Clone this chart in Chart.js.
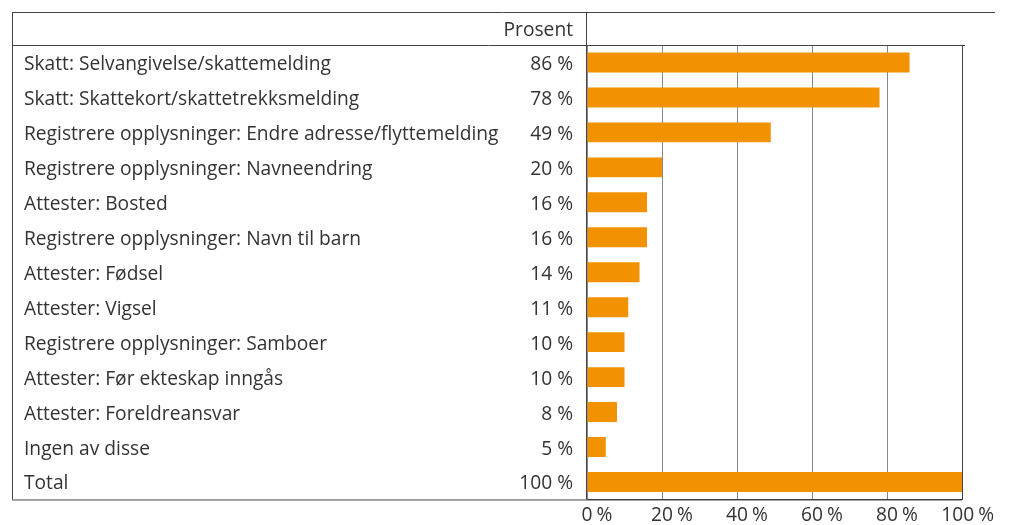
<!DOCTYPE html>
<html>
<head>
<meta charset="utf-8">
<script src="https://cdn.jsdelivr.net/npm/chart.js@4"></script>
<style>
  body { margin: 0; background: #fff; }
  canvas { display: block; }
</style>
</head>
<body>
<canvas id="grafTjenester" width="1010" height="525"></canvas>
<script>
// Kategorier og verdier (prosent)
const kategorier = [
    "Skatt: Selvangivelse/skattemelding",
    "Skatt: Skattekort/skattetrekksmelding",
    "Registrere opplysninger: Endre adresse/flyttemelding",
    "Registrere opplysninger: Navneendring",
    "Attester: Bosted",
    "Registrere opplysninger: Navn til barn",
    "Attester: Fødsel",
    "Attester: Vigsel",
    "Registrere opplysninger: Samboer",
    "Attester: Før ekteskap inngås",
    "Attester: Foreldreansvar",
    "Ingen av disse",
    "Total"
];
const prosent = [86, 78, 49, 20, 16, 16, 14, 11, 10, 10, 8, 5, 100];
const prosentTekst = prosent.map(p => p + " %");
const xTicks = [0, 20, 40, 60, 80, 100];

const FONT = "'Open Sans', sans-serif";
const TEKST = '#333';
const STR = 19.2;

// Ramme, overskrift og x-aksens tekster
const rammePlugin = {
    id: 'ramme',
    afterDraw(chart) {
        const ctx = chart.ctx;
        const a = chart.chartArea;
        const venstre = 12, topp = 12;
        ctx.save();
        ctx.strokeStyle = '#444';
        ctx.lineWidth = 1;
        ctx.beginPath();
        ctx.moveTo(venstre, topp + 0.5); ctx.lineTo(995, topp + 0.5);
        ctx.moveTo(venstre, a.top + 0.5); ctx.lineTo(a.right + 3, a.top + 0.5);
        ctx.moveTo(venstre + 0.5, topp); ctx.lineTo(venstre + 0.5, a.bottom);
        ctx.moveTo(a.left - 0.5, topp); ctx.lineTo(a.left - 0.5, a.bottom);
        ctx.moveTo(a.right + 0.5, a.top); ctx.lineTo(a.right + 0.5, a.bottom);
        ctx.moveTo(venstre, a.bottom + 0.5); ctx.lineTo(a.right, a.bottom + 0.5);
        ctx.stroke();

        ctx.fillStyle = TEKST;
        ctx.font = STR + "px " + FONT;
        ctx.textBaseline = 'middle';
        ctx.textAlign = 'right';
        ctx.fillText("Prosent", a.left - 14, (topp + a.top) / 2 + 2);

        // tallet sentreres på gridlinjen, "%" henger etter
        const xs = chart.scales.x;
        ctx.textAlign = 'left';
        xTicks.forEach(v => {
            const tall = String(v);
            const bTall = ctx.measureText(tall).width;
            const bPst = ctx.measureText("%").width;
            const mellom = 4;
            let x0 = xs.getPixelForValue(v) - bTall / 2;
            const slutt = x0 + bTall + mellom + bPst;
            if (slutt > 994) x0 -= slutt - 994;
            ctx.fillText(tall, x0, a.bottom + 16);
            ctx.fillText("%", x0 + bTall + mellom, a.bottom + 16);
        });
        ctx.restore();
    }
};

new Chart(document.getElementById('grafTjenester').getContext('2d'), {
    type: 'bar',
    data: {
        labels: kategorier,
        datasets: [{
            data: prosent,
            backgroundColor: '#f39200',
            barPercentage: 0.57,
            categoryPercentage: 1,
            yAxisID: 'y'
        }]
    },
    options: {
        indexAxis: 'y',
        responsive: false,
        animation: false,
        layout: { padding: { left: 24, top: 45, right: 48, bottom: 0 } },
        plugins: { legend: { display: false }, tooltip: { enabled: false } },
        scales: {
            x: {
                min: 0,
                max: 100,
                afterBuildTicks: axis => { axis.ticks = xTicks.map(v => ({ value: v })); },
                afterFit: axis => { axis.height = 25; },
                grid: { color: '#888', lineWidth: 1, drawTicks: false },
                border: { display: true, color: '#333' },
                ticks: { display: false }
            },
            y: {
                type: 'category',
                position: 'left',
                weight: 1,
                afterFit: axis => { axis.width = 490; },
                grid: { display: false, drawTicks: false },
                border: { display: false },
                ticks: {
                    color: TEKST,
                    font: { family: FONT, size: STR },
                    crossAlign: 'far',
                    labelOffset: 2,
                    padding: 0
                }
            },
            y2: {
                type: 'category',
                position: 'left',
                weight: 0,
                labels: prosentTekst,
                afterFit: axis => { axis.width = 73; },
                grid: { display: false, drawTicks: false },
                border: { display: false },
                ticks: {
                    color: TEKST,
                    font: { family: FONT, size: STR },
                    labelOffset: 2,
                    padding: 14
                }
            }
        }
    },
    plugins: [rammePlugin]
});
</script>
</body>
</html>
